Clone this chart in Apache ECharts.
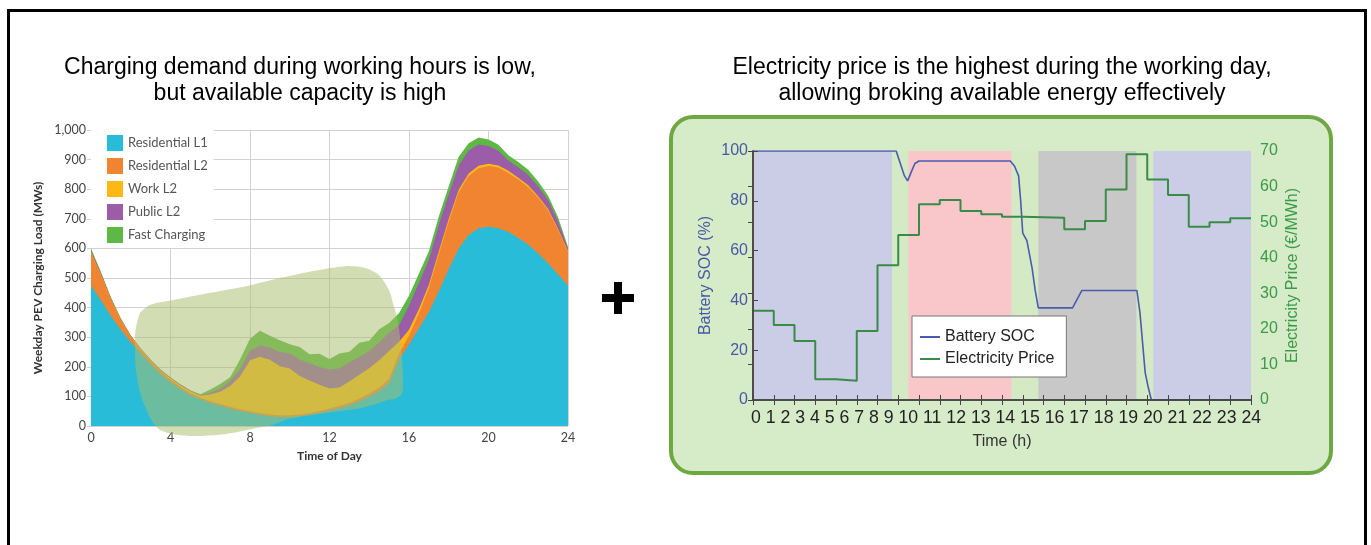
<!DOCTYPE html>
<html><head><meta charset="utf-8">
<script src="https://cdn.jsdelivr.net/npm/echarts/dist/echarts.min.js"></script>
<style>html,body{margin:0;padding:0;background:#fff}#c{width:1371px;height:545px}</style>
</head><body><div id="c"></div>
<script>
// ---------- Left chart: weekday PEV charging load (MW), half-hour steps ----------
const HOURS = [0,0.5,1,1.5,2,2.5,3,3.5,4,4.5,5,5.5,6,6.5,7,7.5,8,8.5,9,9.5,10,10.5,11,11.5,12,12.5,13,13.5,14,14.5,15,15.5,16,16.5,17,17.5,18,18.5,19,19.5,20,20.5,21,21.5,22,22.5,23,23.5,24];
const RES_L1 = [475,425,372,325,283,245,208,175,148,124,104,90,78,68,59,51,44,38,33,30,30,33,38,44,52,60,70,84,100,118,145,225,275,330,385,455,530,600,645,668,673,668,655,635,612,583,550,512,475];
const RES_L2 = [110,85,55,32,18,12,10,9,9,8,7,6,6,6,6,6,6,6,6,6,6,6,6,7,7,8,8,9,10,12,15,20,30,50,80,125,160,190,200,203,205,205,200,198,195,188,178,150,113];
const WORK_L2 = [3,2,2,2,2,2,3,3,4,5,6,6,22,42,70,110,172,190,185,166,158,130,110,88,68,62,72,80,85,92,93,40,20,15,12,10,10,8,8,8,8,7,7,6,6,5,5,4,3];
const PUBLIC_L2 = [6,4,3,2,2,2,2,2,2,2,2,2,6,10,18,25,33,38,40,48,52,56,58,60,64,65,65,60,58,60,62,55,82,88,85,88,82,82,78,72,60,50,35,35,35,33,30,25,8];
const FAST = [6,4,3,3,2,2,2,2,2,2,2,3,11,16,12,33,40,50,41,40,30,42,30,45,35,50,36,48,35,45,33,42,33,32,28,30,28,30,24,24,22,20,18,18,18,17,15,14,6];
const LEFT_SERIES_NAMES = ['Residential L1','Residential L2','Work L2','Public L2','Fast Charging'];
// highlighted "available capacity" region outline (hour, MW)
const BLOB_H = [2.22,2.3,2.5,3.0,4.0,6,8,9.45,11.1,12.8,13.85,14.5,15.0,15.26,15.4,15.55,15.65,15.7,15.65,15.3,15.0,13.65,12,10,9.1,8.1,6.8,5.4,4.4,3.5,3.0,2.5,2.25,2.22];
const BLOB_V = [311,345,385,410,424,450,475,499,523,540,533,509,458,400,366,300,220,150,110,92,89,62,46,25,3,-10,-27,-34,-30,-14,24,106,195,260];

// ---------- Right chart: battery SOC and electricity price ----------
const SOC_H = [0,6.9,7.1,7.3,7.45,7.6,7.8,8.0,12.4,12.6,12.8,12.9,13.0,13.2,13.45,13.6,13.75,15.4,15.85,18.5,18.65,18.9,19.05,19.2,24];
const SOC_V = [100,100,95,90,88,91,95,96,96,94,90,80,67,64,53,44,37,37,44,44,35,11,5,0,0];
const PRICE_H = [0,1,2,3,4,5,6,7,8,9,10,11,12,13,14,15,16,17,18,19,20,21,22,23,24];
const PRICE_V = [25.1,21.1,16.6,5.8,5.4,19.4,37.9,46.4,55.0,56.2,53.1,52.2,51.5,51.4,51.2,48.0,50.3,59.2,69.1,62.0,57.6,48.7,50.0,51.1,51.1];
const RIGHT_X_LABELS = ['0','1','2','3','4','5','6','7','8','9','10','11','12','13','14','15','16','17','18','19','20','21','22','23','24'];
const BAND_START = [0,6.71,7.49,12.47,13.75,18.49,19.29];
const BAND_END = [6.71,7.49,12.47,13.75,18.49,19.29,24];
const BAND_KIND = ['night','idle','work','idle','evening','idle','night'];

const LEFT_COLORS = ['#29BCD8','#F08431','#FDB813','#9B5CA8','#5DB846'];
const BAND_COLORS = {night:'#CBCCE6', idle:'#D3EAC5', work:'#F9C7C9', evening:'#C8C8C8'};
const LF = 'Lato, "Open Sans", sans-serif';
const RF = '"Liberation Sans", Arial, sans-serif';

const chart = echarts.init(document.getElementById('c'), null, {renderer:'canvas'});
const layers = [RES_L1, RES_L2, WORK_L2, PUBLIC_L2, FAST];
// cumulative tops of the stack (drawn from the top layer down, each filled to the axis)
const cumulative = [];
layers.forEach((arr, k) => cumulative.push(arr.map((v, i) => v + (k ? cumulative[k-1][i] : 0))));

const series = [];
for (let k = layers.length - 1; k >= 0; k--) {
  series.push({
    name: LEFT_SERIES_NAMES[k], type:'line', xAxisIndex:0, yAxisIndex:0,
    symbol:'none', lineStyle:{width:0, opacity:0}, color: LEFT_COLORS[k],
    areaStyle:{color: LEFT_COLORS[k], opacity:1}, z:2,
    data: HOURS.map((h,i)=>[h, cumulative[k][i]])
  });
}
series.push({
  type:'custom', xAxisIndex:0, yAxisIndex:0, clip:false, silent:true, z:3,
  data:[[BLOB_H[0], BLOB_V[0]]],
  renderItem: function(params, api){
    const pts = BLOB_H.map((h,i)=>api.coord([h, BLOB_V[i]]));
    return {type:'polygon', shape:{points:pts, smooth:0.25}, style:{fill:'rgba(170,190,109,0.52)'}};
  }
});
series.push({
  name:'Battery SOC', type:'line', xAxisIndex:1, yAxisIndex:1, symbol:'none', color:'#4B5BAE',
  lineStyle:{width:1.6}, z:4,
  data: SOC_H.map((h,i)=>[h, SOC_V[i]]),
  markArea:{silent:true, data: BAND_START.map((s,i)=>[{xAxis:s, itemStyle:{color:BAND_COLORS[BAND_KIND[i]], opacity:1}},{xAxis:BAND_END[i]}])}
});
series.push({
  name:'Electricity Price', type:'line', xAxisIndex:1, yAxisIndex:2, step:'end', symbol:'none', color:'#3A8A48',
  lineStyle:{width:2}, z:4,
  data: PRICE_H.map((h,i)=>[h, PRICE_V[i]])
});

const rightAxisLine = {show:true, lineStyle:{color:'#444', width:1.5}};

chart.setOption({
  animation:false,
  backgroundColor:'#fff',
  grid:[
    {left:91, top:130, width:477, height:296, outerBoundsMode:'none'},
    {left:753, top:151, width:498, height:249, outerBoundsMode:'none'}
  ],
  legend:[
    {data:LEFT_SERIES_NAMES, orient:'vertical', left:91, top:130, padding:[5,6,5,16],
     backgroundColor:'#fff', itemWidth:16, itemHeight:16, itemGap:7, icon:'rect',
     textStyle:{fontFamily:LF, fontSize:13, color:'#555'}, selectedMode:false},
    {data:['Battery SOC','Electricity Price'], orient:'vertical', left:912, top:316, padding:[13,12,10,8],
     backgroundColor:'#fff', borderColor:'#777', borderWidth:1, itemWidth:20, itemHeight:2, itemGap:6, icon:'rect',
     textStyle:{fontFamily:RF, fontSize:16, color:'#222'}, selectedMode:false}
  ],
  xAxis:[
    {gridIndex:0, type:'value', min:0, max:24, interval:4,
     axisLine:{show:false}, axisTick:{show:false},
     axisLabel:{fontFamily:LF, fontSize:12.5, color:'#444', margin:5},
     splitLine:{show:true, lineStyle:{color:'#d2d2d2', width:1}},
     name:'Time of Day', nameLocation:'middle', nameGap:24, nameMoveOverlap:false,
     nameTextStyle:{fontFamily:LF, fontSize:12, fontWeight:'bold', color:'#333'}},
    {gridIndex:1, type:'value', min:0, max:24, interval:1, z:6,
     axisLine:rightAxisLine, axisTick:{show:true, inside:true, length:5, lineStyle:{color:'#444', width:1}},
     axisLabel:{show:false}, splitLine:{show:false},
     name:'{t|' + RIGHT_X_LABELS.join(' ') + '}\n{n|Time (h)}', nameLocation:'middle', nameGap:7, nameMoveOverlap:false,
     nameTextStyle:{rich:{
       t:{fontFamily:RF, fontSize:17.7, color:'#222', lineHeight:23, padding:[0,0,0,8]},
       n:{fontFamily:RF, fontSize:16, color:'#333', lineHeight:23}}}},
    {gridIndex:1, type:'value', min:0, max:24, interval:1, position:'top', z:6,
     axisLine:rightAxisLine, axisTick:{show:true, inside:true, length:5, lineStyle:{color:'#444', width:1}},
     axisLabel:{show:false}, splitLine:{show:false}}
  ],
  yAxis:[
    {gridIndex:0, type:'value', min:0, max:1000, interval:100,
     axisLine:{show:false}, axisTick:{show:true, length:4, lineStyle:{color:'#cfcfcf'}},
     axisLabel:{fontFamily:LF, fontSize:12.5, color:'#444', margin:5,
       formatter: v => v.toLocaleString('en-US')},
     splitLine:{show:true, lineStyle:{color:'#d2d2d2', width:1}},
     name:'Weekday PEV Charging Load (MWs)', nameLocation:'middle', nameGap:47, nameMoveOverlap:false,
     nameTextStyle:{fontFamily:LF, fontSize:12, fontWeight:'bold', color:'#333'}},
    {gridIndex:1, type:'value', min:0, max:100, interval:20, position:'left', z:6,
     axisLine:rightAxisLine, axisTick:{show:true, inside:true, length:5, lineStyle:{color:'#444'}},
     axisLabel:{fontFamily:RF, fontSize:16, color:'#4B57A6', margin:5},
     splitLine:{show:false},
     name:'Battery SOC (%)', nameLocation:'middle', nameGap:39, nameMoveOverlap:false,
     nameTextStyle:{fontFamily:RF, fontSize:16, color:'#4B57A6'}},
    {gridIndex:1, type:'value', min:0, max:70, interval:10, position:'right', z:6,
     axisLine:rightAxisLine, axisTick:{show:true, inside:true, length:5, lineStyle:{color:'#444'}},
     axisLabel:{fontFamily:RF, fontSize:16, color:'#3A9A48', margin:9},
     splitLine:{show:false},
     name:'Electricity Price (€/MWh)', nameLocation:'middle', nameGap:34, nameMoveOverlap:false,
     nameTextStyle:{fontFamily:RF, fontSize:16, color:'#3A9A48'}}
  ],
  graphic:[
    {type:'rect', z:-20, silent:true, shape:{x:8.5, y:10.5, width:1357, height:600}, style:{fill:'none', stroke:'#000', lineWidth:3}},
    {type:'rect', z:-10, silent:true, shape:{x:671, y:117, width:660, height:356, r:22}, style:{fill:'#D6EBC8', stroke:'#6DA843', lineWidth:4}},
    {type:'rect', silent:true, shape:{x:602, y:294, width:32, height:8}, style:{fill:'#000'}},
    {type:'rect', silent:true, shape:{x:614, y:282, width:8, height:32}, style:{fill:'#000'}},
    {type:'text', silent:true, x:300, y:55, style:{text:'Charging demand during working hours is low,\nbut available capacity is high',
      fontFamily:RF, fontSize:23, fill:'#000', align:'center', verticalAlign:'top', lineHeight:26}},
    {type:'text', silent:true, x:1002, y:55, style:{text:'Electricity price is the highest during the working day,\nallowing broking available energy effectively',
      fontFamily:RF, fontSize:23, fill:'#000', align:'center', verticalAlign:'top', lineHeight:26}}
  ],
  series: series
});
</script></body></html>
